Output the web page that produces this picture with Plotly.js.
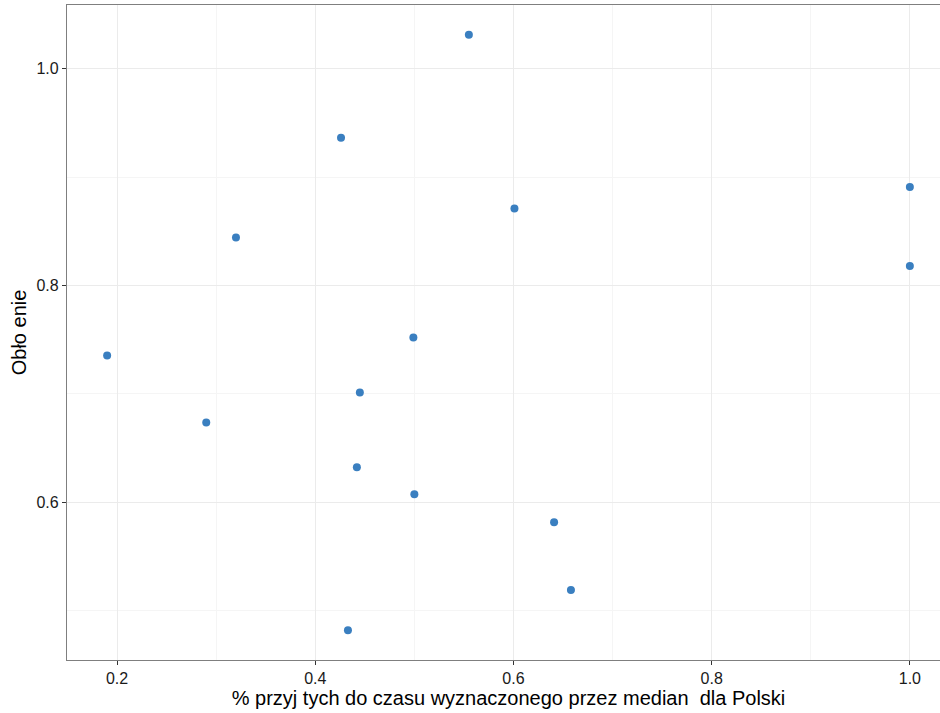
<!DOCTYPE html>
<html>
<head>
<meta charset="utf-8">
<script src="https://cdn.plot.ly/plotly-3.0.1.min.js"></script>
<style>html,body{margin:0;padding:0;overflow:hidden;background:#fff;}#chart{width:950px;height:713px;}</style>
</head>
<body>
<div id="chart"></div>
<script>
const xValues = [0.19, 0.29, 0.32, 0.426, 0.445, 0.442, 0.433, 0.499, 0.50, 0.555, 0.601, 0.641, 0.658, 1.0, 1.0];
const yValues = [0.7355, 0.6737, 0.8442, 0.9364, 0.7014, 0.6323, 0.482, 0.752, 0.6074, 1.0313, 0.871, 0.5816, 0.519, 0.891, 0.818];
const xTicks = [0.2, 0.4, 0.6, 0.8, 1.0];
const xTickLabels = ["0.2", "0.4", "0.6", "0.8", "1.0"];
const yTicks = [0.6, 0.8, 1.0];
const yTickLabels = ["0.6", "0.8", "1.0"];
const xTitle = "% przyj tych do czasu wyznaczonego przez median  dla Polski";
const yTitle = "Obło enie";

const font = "Liberation Sans, Arial, sans-serif";
const axisCommon = {
  showline: true, mirror: true, linecolor: "#7f7f7f", linewidth: 1.1,
  ticks: "outside", ticklen: 4, tickwidth: 1.1, tickcolor: "#333333",
  showgrid: true, gridcolor: "#ebebeb", gridwidth: 1,
  zeroline: false,
  tickfont: {family: font, size: 16, color: "#1a1a1a"},
  minor: {showgrid: true, gridcolor: "#f5f5f5", gridwidth: 1, ticks: ""}
};

Plotly.newPlot("chart", [{
  type: "scatter", mode: "markers",
  x: xValues, y: yValues,
  marker: {color: "#3a7fc0", size: 8}
}], {
  width: 950, height: 713,
  margin: {l: 67, r: 0, t: 5, b: 53},
  paper_bgcolor: "#ffffff", plot_bgcolor: "#ffffff",
  showlegend: false,
  xaxis: Object.assign({}, axisCommon, {
    range: [0.1495, 1.0405],
    tickmode: "array", tickvals: xTicks, ticktext: xTickLabels,
    ticklabelstandoff: 0,
    minor: Object.assign({}, axisCommon.minor, {tickmode: "array", tickvals: [0.3, 0.5, 0.7, 0.9]}),
    title: {text: xTitle, font: {family: font, size: 20, color: "#000"}, standoff: 0}
  }),
  yaxis: Object.assign({}, axisCommon, {
    range: [0.4545, 1.0588],
    tickmode: "array", tickvals: yTicks, ticktext: yTickLabels,
    ticklabelstandoff: 0,
    minor: Object.assign({}, axisCommon.minor, {tickmode: "array", tickvals: [0.5, 0.7, 0.9]}),
    title: {text: yTitle, font: {family: font, size: 20, color: "#000"}, standoff: 4}
  })
}, {displayModeBar: false, staticPlot: true});
</script>
</body>
</html>
